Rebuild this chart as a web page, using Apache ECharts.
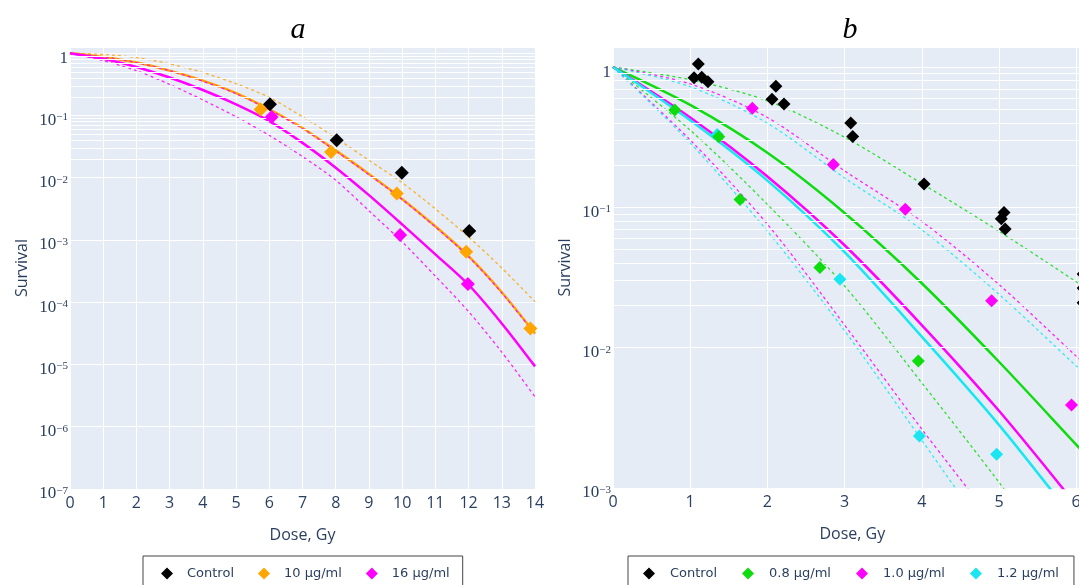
<!DOCTYPE html>
<html><head><meta charset="utf-8">
<script src="https://cdn.jsdelivr.net/npm/echarts@6/dist/echarts.min.js"></script>
<style>html,body{margin:0;padding:0;background:#fff}#c{width:1079px;height:585px}</style>
</head><body><div id="c"></div>
<script>
// ---------- Panel a ----------
const doseA = [0,1,2,3,4,5,6,7,8,9,10,11,12,13,14];
const fit10A   = [1,0.871,0.708,0.525,0.363,0.229,0.126,0.0631,0.0275,0.0115,0.00457,0.00166,0.000550,0.000145,0.0000316];
const upper10A = [1,0.955,0.851,0.676,0.490,0.324,0.195,0.0955,0.0437,0.0191,0.00832,0.00316,0.00112,0.000355,0.000102];
const fit16A   = [1,0.813,0.603,0.407,0.257,0.151,0.0813,0.0363,0.0145,0.00525,0.00178,0.000589,0.000191,0.0000457,0.00000933];
const upper16A = [1,0.871,0.708,0.525,0.355,0.224,0.123,0.0617,0.0269,0.0112,0.00447,0.00162,0.000537,0.000141,0.0000309];
const lower16A = [1,0.759,0.525,0.316,0.178,0.0955,0.0479,0.0219,0.00912,0.00295,0.000933,0.000263,0.0000708,0.0000158,0.00000302];
const ctrlA = [[6.02,0.152],[8.03,0.040],[9.99,0.012],[12.02,0.0014]];
const pts10A = [[5.74,0.125],[7.86,0.026],[9.84,0.0056],[11.93,0.00065],[13.86,0.000038]];
const pts16A = [[6.07,0.095],[9.94,0.0012],[11.98,0.000196]];
const legendA = ['Control','10 μg/ml','16 μg/ml'];

// ---------- Panel b ----------
const doseB = [0,1,2,3,4,5,6,6.2];
const fit08B   = [1,0.537,0.245,0.0912,0.0288,0.00794,0.00204,0.00155];
const upper08B = [1,0.813,0.575,0.316,0.148,0.0676,0.0295,0.0245];
const lower08B = [1,0.355,0.105,0.0275,0.00562,0.00110,0.000200,0.000141];
const fit10B   = [1,0.437,0.166,0.0537,0.0145,0.00355,0.000759,0.000550];
const upper10B = [1,0.759,0.437,0.182,0.0794,0.0282,0.00871,0.00692];
const lower10B = [1,0.302,0.0759,0.0145,0.00263,0.000501,0.0000794,0.0000550];
const fit12B   = [1,0.417,0.155,0.0479,0.0120,0.00282,0.000575,0.000417];
const upper12B = [1,0.724,0.398,0.162,0.0692,0.0240,0.00741,0.00589];
const lower12B = [1,0.288,0.0676,0.0132,0.00219,0.000355,0.0000501,0.0000340];
const ctrlB = [[1.05,0.84],[1.105,1.05],[1.15,0.845],[1.23,0.785],[2.06,0.59],[2.11,0.73],[2.215,0.545],
               [3.08,0.40],[3.105,0.32],[4.03,0.147],[5.03,0.083],[5.065,0.092],[5.08,0.070],
               [6.09,0.0335],[6.09,0.0266],[6.09,0.0209]];
const pts08B = [[0.80,0.494],[1.37,0.319],[1.645,0.114],[2.68,0.0373],[3.955,0.00803]];
const pts10B = [[1.805,0.508],[2.854,0.202],[3.787,0.0968],[4.905,0.0216],[5.94,0.0039]];
const pts12B = [[1.35,0.33],[2.94,0.0307],[3.97,0.00235],[4.97,0.00174]];
const legendB = ['Control','0.8 μg/ml','1.0 μg/ml','1.2 μg/ml'];

const C_ORANGE = '#ffa500', C_MAG = '#ff00ff', C_GREEN = '#0fdc0f', C_CYAN = '#19e6f0', C_BLACK = '#000000';
const TXT = '#2a3f5f';

function minorLines(fromExp, toExp) {
  const out = [];
  for (let e = fromExp; e < toExp; e++) for (let k = 2; k <= 9; k++) out.push({ yAxis: k * Math.pow(10, e) });
  return out;
}
function logLabel(v) {
  const e = Math.log10(v), r = Math.round(e);
  if (Math.abs(e - r) > 1e-6) return '';
  if (r === 0) return '{b|1}';
  return '{b|10}{s|\u2212' + Math.abs(r) + '}';
}
function curve(name, xs, ys, gi, color, dashed) {
  return { type: 'line', name, xAxisIndex: gi, yAxisIndex: gi,
    data: xs.map((d, i) => [d, ys[i]]), showSymbol: false, symbol: 'none', smooth: 0.3,
    silent: true, legendHoverLink: false, z: 3,
    lineStyle: { color, width: dashed ? 1.3 : 2.5, type: dashed ? [3, 3] : 'solid', opacity: dashed ? 0.85 : 1 } };
}
function pts(name, data, gi, color, size) {
  return { type: 'scatter', name, xAxisIndex: gi, yAxisIndex: gi, data, symbol: 'diamond', symbolSize: size,
    itemStyle: { color, opacity: 1 }, z: 5, silent: true };
}
function gridSeries(gi, lines) {
  return { type: 'line', xAxisIndex: gi, yAxisIndex: gi, data: [[0, 1]], showSymbol: false, symbol: 'none',
    lineStyle: { opacity: 0 }, silent: true, z: 1,
    markLine: { symbol: 'none', silent: true, animation: false, label: { show: false },
      lineStyle: { color: '#ffffff', width: 1, type: 'solid' }, emphasis: { disabled: true }, data: lines } };
}
const yLabel = {
  formatter: logLabel, margin: 2, padding: [10, 0, 0, 0],
  rich: {
    b: { fontFamily: 'Liberation Serif', fontSize: 17, lineHeight: 17, color: TXT, verticalAlign: 'bottom' },
    s: { fontFamily: 'Liberation Serif', fontSize: 11, lineHeight: 11, color: TXT, verticalAlign: 'top' }
  }
};
const nameStyle = { fontFamily: 'Open Sans', fontSize: 16, color: TXT };
function xAxis(gi, max) {
  return { type: 'value', gridIndex: gi, min: 0, max, interval: 1,
    axisLine: { show: false }, axisTick: { show: false },
    splitLine: { show: true, lineStyle: { color: '#ffffff', width: 1 } },
    axisLabel: { color: TXT, fontSize: 16, fontFamily: 'Open Sans', margin: 6,
      formatter: v => (Math.abs(v - Math.round(v)) < 1e-9 ? String(Math.round(v)) : '') },
    name: 'Dose, Gy', nameLocation: 'middle', nameGap: 38, nameTextStyle: nameStyle };
}
function yAxis(gi, min, max) {
  return { type: 'log', logBase: 10, gridIndex: gi, min, max,
    axisLine: { show: false }, axisTick: { show: false },
    splitLine: { show: true, lineStyle: { color: '#ffffff', width: 1 } },
    axisLabel: yLabel,
    name: 'Survival', nameLocation: 'middle', nameGap: 40, nameTextStyle: nameStyle };
}
function legend(names, left, gap, pad, textPad) {
  return { left, top: 556, orient: 'horizontal', selectedMode: false,
    data: names.map(n => ({ name: n, icon: 'diamond' })),
    itemWidth: 12, itemHeight: 12, itemGap: gap, padding: pad,
    borderColor: '#444444', borderWidth: 1, backgroundColor: '#ffffff',
    textStyle: { fontFamily: 'DejaVu Sans', fontSize: 13, color: TXT, padding: [0, 0, 0, textPad] } };
}

const chart = echarts.init(document.getElementById('c'), null, { renderer: 'canvas' });
chart.setOption({
  animation: false,
  backgroundColor: '#ffffff',
  grid: [
    { left: 70, top: 47, width: 465, height: 442, show: true, backgroundColor: '#E5ECF6', borderWidth: 0, containLabel: false, outerBoundsMode: 'none' },
    { left: 613, top: 47, width: 478.6, height: 441, show: true, backgroundColor: '#E5ECF6', borderWidth: 0, containLabel: false, outerBoundsMode: 'none' }
  ],
  xAxis: [xAxis(0, 14), xAxis(1, 6.2)],
  yAxis: [yAxis(0, 1e-7, 1.26), yAxis(1, 1e-3, 1.39)],
  legend: [
    legend(legendA, 143, 24, [11, 13, 20, 18], 9),
    legend(legendB, 628, 25, [11, 15, 20, 15], 10)
  ],
  graphic: [
    { type: 'text', x: 298, y: 30, style: { text: 'a', fontSize: 30, fontFamily: 'Liberation Serif', fontStyle: 'italic', fill: '#000', align: 'center', verticalAlign: 'middle' } },
    { type: 'text', x: 850, y: 30, style: { text: 'b', fontSize: 30, fontFamily: 'Liberation Serif', fontStyle: 'italic', fill: '#000', align: 'center', verticalAlign: 'middle' } }
  ],
  series: [
    gridSeries(0, minorLines(-7, 0)),
    gridSeries(1, minorLines(-3, 0)),
    // panel a curves
    curve('10 upper', doseA, upper10A, 0, C_ORANGE, true),
    curve('10 fit', doseA, fit10A, 0, C_ORANGE, false),
    curve('16 fit', doseA, fit16A, 0, C_MAG, false),
    curve('16 upper', doseA, upper16A, 0, C_MAG, true),
    curve('16 lower', doseA, lower16A, 0, C_MAG, true),
    pts('Control', ctrlA, 0, C_BLACK, 14),
    pts('10 μg/ml', pts10A, 0, C_ORANGE, 14),
    pts('16 μg/ml', pts16A, 0, C_MAG, 14),
    // panel b curves
    curve('0.8 upper', doseB, upper08B, 1, C_GREEN, true),
    curve('1.0 upper', doseB, upper10B, 1, C_MAG, true),
    curve('1.2 upper', doseB, upper12B, 1, C_CYAN, true),
    curve('0.8 lower', doseB, lower08B, 1, C_GREEN, true),
    curve('1.0 lower', doseB, lower10B, 1, C_MAG, true),
    curve('1.2 lower', doseB, lower12B, 1, C_CYAN, true),
    curve('0.8 fit', doseB, fit08B, 1, C_GREEN, false),
    curve('1.0 fit', doseB, fit10B, 1, C_MAG, false),
    curve('1.2 fit', doseB, fit12B, 1, C_CYAN, false),
    pts('Control', ctrlB, 1, C_BLACK, 13),
    pts('1.2 μg/ml', pts12B, 1, C_CYAN, 13),
    pts('0.8 μg/ml', pts08B, 1, C_GREEN, 13),
    pts('1.0 μg/ml', pts10B, 1, C_MAG, 13)
  ]
});
</script>
</body></html>
